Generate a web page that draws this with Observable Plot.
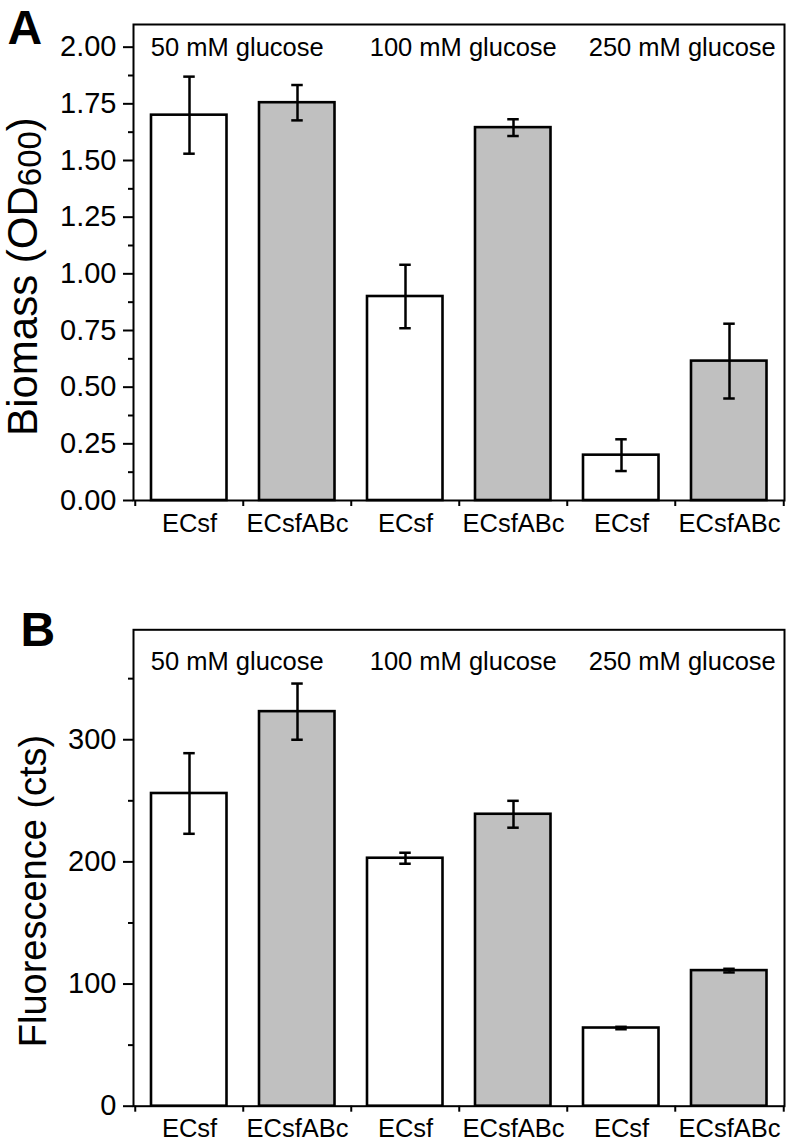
<!DOCTYPE html>
<html><head><meta charset="utf-8">
<script src="https://cdn.jsdelivr.net/npm/d3@7"></script>
<script src="https://cdn.jsdelivr.net/npm/@observablehq/plot@0.6"></script>
<style>
body{margin:0;background:#fff;}
#chart{width:793px;}
#chart svg{display:block;}
</style></head><body><div id="chart"></div>
<script>
const groups = ["50 mM glucose", "100 mM glucose", "250 mM glucose"];
const strains = ["ECsf", "ECsfABc"];
const xLabels = ["ECsf", "ECsfABc", "ECsf", "ECsfABc", "ECsf", "ECsfABc"];
const biomass = [1.70, 1.755, 0.90, 1.645, 0.20, 0.615];
const biomassErr = [0.17, 0.078, 0.14, 0.037, 0.07, 0.165];
const fluor = [256, 323, 203, 239, 64, 111];
const fluorErr = [33, 23, 4.5, 11, 1, 1.5];
const yMajorA = [0, 0.25, 0.5, 0.75, 1.0, 1.25, 1.5, 1.75, 2.0];
const yMinorA = [0.125, 0.375, 0.625, 0.875, 1.125, 1.375, 1.625, 1.875];
const yMajorB = [0, 100, 200, 300];
const yMinorB = [50, 150, 250, 350];

const W = 793, mL = 133, mR = 9;
const bw = (W - mL - mR) / 6;
const FONT = "'Liberation Sans', Arial, Helvetica, sans-serif";
const groupNudge = [-6, 4, 7];

function panel(o) {
  const data = o.values.map((v, i) => ({
    i, strain: strains[i % 2], v, lo: v - o.errs[i], hi: v + o.errs[i]
  }));
  const idx = d3.range(xLabels.length);
  const capInset = (bw - 12) / 2;
  const groupMarks = groups.map((g, k) =>
    Plot.text([{g, i: 2 * k + 1}], {x: "i", text: "g", dx: -bw / 2 + groupNudge[k], frameAnchor: "top", lineAnchor: "bottom", dy: o.groupDy, fontSize: 25.5})
  );
  return Plot.plot({
    width: W, height: o.height,
    marginLeft: mL, marginRight: mR, marginTop: o.mt, marginBottom: o.mb,
    style: {fontFamily: FONT, background: "#fff", color: "#000", overflow: "visible"},
    x: {type: "band", domain: idx, padding: 0, label: null},
    y: {domain: o.yDomain, label: null},
    color: {type: "ordinal", domain: strains, range: ["#ffffff", "#c0c0c0"]},
    marks: [
      Plot.barY(data, {x: "i", y: "v", fill: "strain", stroke: "#000", strokeWidth: 2.6, insetLeft: 16, insetRight: 16.5}),
      Plot.ruleX(data, {x: "i", y1: "lo", y2: "hi", stroke: "#000", strokeWidth: 2.5}),
      Plot.tickY(data, {x: "i", y: "lo", stroke: "#000", strokeWidth: 2.5, insetLeft: capInset, insetRight: capInset}),
      Plot.tickY(data, {x: "i", y: "hi", stroke: "#000", strokeWidth: 2.5, insetLeft: capInset, insetRight: capInset}),
      Plot.frame({stroke: "#000", strokeWidth: 2}),
      Plot.axisY({ticks: o.major, tickSize: 10, tickPadding: 7, tickFormat: o.fmt, fontSize: 29, strokeWidth: 2, label: null}),
      Plot.axisY({ticks: o.minor, tickSize: 5, tickFormat: () => "", strokeWidth: 2, label: null}),
      Plot.axisX({ticks: idx, tickSize: 0, tickPadding: 13, tickFormat: i => xLabels[i], fontSize: 25.5, label: null}),
      Plot.axisX({ticks: idx, tickSize: 6, tickFormat: () => "", dx: -bw / 2, strokeWidth: 2, label: null}),
      Plot.axisX({ticks: [idx[idx.length - 1]], tickSize: 6, tickFormat: () => "", dx: bw / 2, strokeWidth: 2, label: null}),
      ...groupMarks,
      Plot.text([o.letter], {frameAnchor: "top-left", textAnchor: "start", lineAnchor: "bottom", dx: o.letterDx, dy: o.letterDy, fontSize: 48, fontWeight: "bold"}),
      Plot.text([o.label], {frameAnchor: "left", textAnchor: "middle", lineAnchor: "bottom", rotate: -90, dx: o.labelDx, dy: o.labelDy, fontSize: o.labelSize})
    ]
  });
}

const chart = document.getElementById("chart");
const A = panel({
  letter: "A", values: biomass, errs: biomassErr, yDomain: [0, 2.1],
  major: yMajorA, minor: yMinorA, fmt: d3.format(".2f"),
  height: 560, mt: 24, mb: 60, groupDy: 31,
  letterDx: -126, letterDy: 19,
  label: "Biomass (OD600)", labelDx: -97, labelDy: 14, labelSize: 42
});
const B = panel({
  letter: "B", values: fluor, errs: fluorErr, yDomain: [0, 390],
  major: yMajorB, minor: yMinorB, fmt: d3.format("d"),
  height: 584, mt: 69.3, mb: 38.3, groupDy: 40,
  letterDx: -113, letterDy: 16.5,
  label: "Fluorescence (cts)", labelDx: -88, labelDy: 23, labelSize: 38
});
chart.appendChild(A);
chart.appendChild(B);

// subscript for OD600
d3.select(A).selectAll("text").filter(function() { return this.textContent === "Biomass (OD600)"; })
  .each(function() {
    const t = d3.select(this);
    t.text(null);
    t.append("tspan").text("Biomass (OD");
    t.append("tspan").attr("font-size", 33).attr("dy", 4).text("600");
    t.append("tspan").attr("dy", -4).text(")");
  });
</script>
</body></html>
